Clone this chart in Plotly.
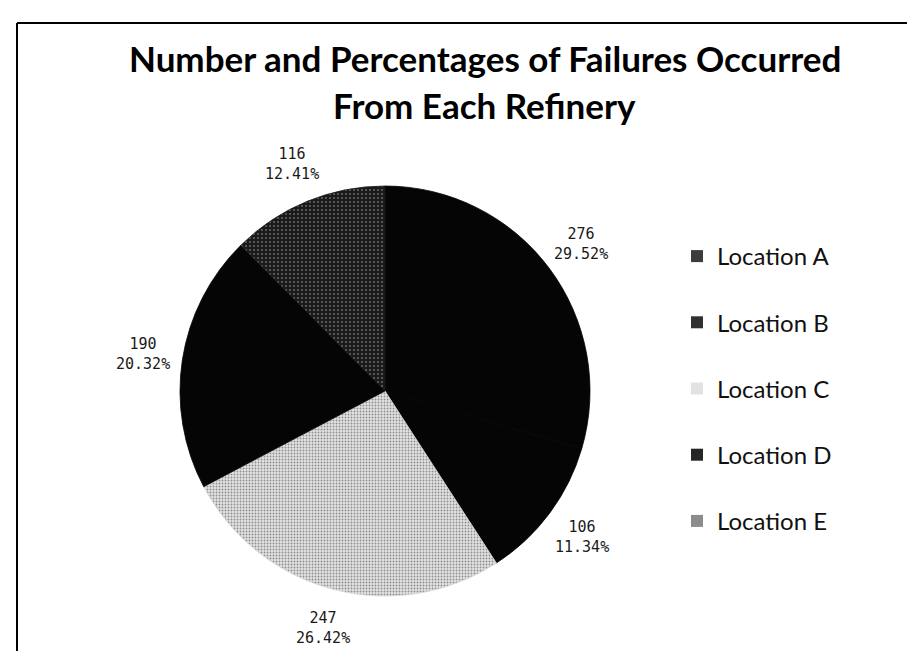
import math
import plotly.graph_objects as go

locations = ["Location A", "Location B", "Location C", "Location D", "Location E"]
failures = [276, 106, 247, 190, 116]

title_lines = ["Number and Percentages of Failures Occurred", "From Each Refinery"]

slice_colors = ["#050505", "#050505", "#d4d4d4", "#050505", "#222222"]
legend_colors = ["#3c3c3c", "#303030", "#e2e2e2", "#262626", "#8c8c8c"]

W, H = 915, 651
CX, CY, R = 377, 383, 205      # pie centre (px from top-left) and radius
R_LAB = 245                    # radius at which the value labels sit

total = sum(failures)
pcts = [100 * v / total for v in failures]

fig = go.Figure()
fig.add_trace(go.Pie(
    labels=locations, values=failures, sort=False,
    direction="clockwise", rotation=0,
    marker=dict(
        colors=slice_colors,
        line=dict(width=0.8, color=["#050505", "#050505", "#d8d8d8", "#050505", "#1a1a1a"]),
        pattern=dict(shape=["", "", ".", "", "."],
                     fgcolor=["#000", "#000", "#8e8e8e", "#000", "#6a6a6a"],
                     bgcolor=["#050505", "#050505", "#e2e2e2", "#050505", "#1a1a1a"],
                     size=[8, 8, 3, 8, 4], solidity=[0.3, 0.3, 0.3, 0.3, 0.2]),
    ),
    textinfo="none", showlegend=False,
    domain=dict(x=[(CX - R) / W, (CX + R) / W], y=[(H - CY - R) / H, (H - CY + R) / H]),
))

# legend entries (one group each so the rows can be spaced out)
for name, col in zip(locations, legend_colors):
    fig.add_trace(go.Scatter(x=[None], y=[None], mode="markers", name=name,
                             legendgroup=name,
                             marker=dict(symbol="square", size=12, color=col)))

# value / percentage labels around the pie
cum = 0
for v, p in zip(failures, pcts):
    th = 2 * math.pi * (cum + v / 2) / total
    cum += v
    fig.add_annotation(
        x=(CX + R_LAB * math.sin(th)) / W, y=(H - CY + R_LAB * math.cos(th)) / H,
        xref="paper", yref="paper", xanchor="center", yanchor="middle",
        showarrow=False, text=f"{v}<br>{p:.2f}%", align="center",
        font=dict(family="DejaVu Sans Mono", size=15, color="#1a1a1a"),
    )

for line, ypx in zip(title_lines, [50, 97]):
    fig.add_annotation(
        x=477 / W, y=1 - ypx / H, xref="paper", yref="paper",
        xanchor="center", yanchor="middle", showarrow=False,
        text=f"<b>{line}</b>", font=dict(family="Lato", size=35, color="#000"),
    )

# scanned-frame border
frame = [(9, 15, 912, 15), (9, 15, 9, 651), (912, 15, 912, 651), (440, 650, 912, 650)]
for x0, y0, x1, y1 in frame:
    fig.add_shape(type="line", xref="paper", yref="paper",
                  x0=x0 / W, x1=x1 / W, y0=1 - y0 / H, y1=1 - y1 / H,
                  line=dict(color="#000", width=2))

fig.update_layout(
    width=W, height=H,
    margin=dict(l=0, r=0, t=0, b=0),
    paper_bgcolor="white", plot_bgcolor="white",
    xaxis=dict(visible=False), yaxis=dict(visible=False),
    legend=dict(x=669 / W, xanchor="left", y=1 - 226 / H, yanchor="top",
                tracegroupgap=32, bgcolor="rgba(0,0,0,0)",
                font=dict(family="Lato", size=24, color="#111")),
)

fig.write_html("out.html")
